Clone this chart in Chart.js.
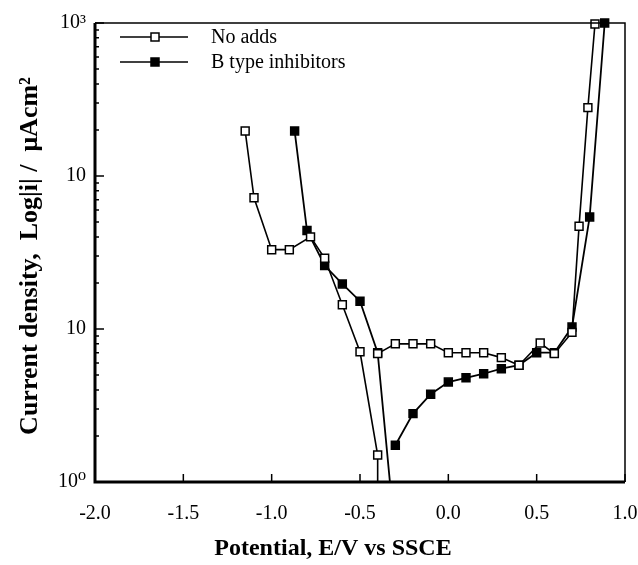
<!DOCTYPE html>
<html>
<head>
<meta charset="utf-8">
<script src="https://cdn.jsdelivr.net/npm/chart.js@4/dist/chart.umd.min.js"></script>
<style>
  html, body { margin: 0; padding: 0; background: #fff; }
  #wrap { width: 638px; height: 565px; }
</style>
</head>
<body>
<div id="wrap"><canvas id="chart" width="638" height="565"></canvas></div>
<script>
// No adds (open squares): cathodic branch runs off the bottom, then anodic branch
const noAddsCathE = [-1.15, -1.1, -1.0, -0.9, -0.78, -0.7, -0.6, -0.5, -0.4, -0.4];
const noAddsCathI = [197, 72, 33, 33, 40, 29, 14.4, 7.1, 1.5, 0.3];
const noAddsAnodE = [-0.4, -0.3, -0.2, -0.1, 0.0, 0.1, 0.2, 0.3, 0.4, 0.52, 0.6, 0.7, 0.74, 0.79, 0.83];
const noAddsAnodI = [6.9, 8.0, 8.0, 8.0, 7.0, 7.0, 7.0, 6.5, 5.8, 8.1, 6.9, 9.5, 47, 280, 985];

// B type inhibitors (filled squares)
const bTypeCathE = [-0.87, -0.8, -0.7, -0.6, -0.5, -0.4, -0.29];
const bTypeCathI = [197, 44, 26, 19.7, 15.2, 7.0, 0.32];
const bTypeAnodE = [-0.3, -0.2, -0.1, 0.0, 0.1, 0.2, 0.3, 0.4, 0.5, 0.6, 0.7, 0.8, 0.885];
const bTypeAnodI = [1.74, 2.8, 3.75, 4.5, 4.8, 5.1, 5.5, 5.8, 7.0, 7.0, 10.3, 54, 1000];

const seriesNames = ['No adds', 'B type inhibitors'];
const xTicks = [-2.0, -1.5, -1.0, -0.5, 0.0, 0.5, 1.0];
const yDecades = [1, 10, 100, 1000];
const yTickLabels = ['10\u2070', '10', '10', '10\u00B3'];
const xTitle = 'Potential, E/V vs SSCE';
const yTitle = 'Current density,  Log|i| /  \u03BCAcm\u00B2';

const serif = '"Liberation Serif", "DejaVu Serif", serif';

function branches(e1, i1, e2, i2) {
    const pts = e1.map((e, k) => ({ x: e, y: i1[k] }));
    pts.push({ x: e2[0], y: null });
    e2.forEach((e, k) => pts.push({ x: e, y: i2[k] }));
    return pts;
}

// all minor + major tick values on the log axis
const yAllTicks = [];
for (let d = 0; d < 3; d++) {
    for (let m = 1; m < 10; m++) yAllTicks.push(m * Math.pow(10, d));
}
yAllTicks.push(1000);

const framePlugin = {
    id: 'frame',
    afterDraw(chart) {
        const { ctx, chartArea: a, scales } = chart;
        ctx.save();
        ctx.strokeStyle = '#000';
        // thin top / right
        ctx.lineWidth = 1.5;
        ctx.beginPath();
        ctx.moveTo(a.left, a.top); ctx.lineTo(a.right, a.top); ctx.lineTo(a.right, a.bottom);
        ctx.stroke();
        // heavy left / bottom
        ctx.lineWidth = 3;
        ctx.beginPath();
        ctx.moveTo(a.left, a.top); ctx.lineTo(a.left, a.bottom); ctx.lineTo(a.right, a.bottom);
        ctx.stroke();

        // inward ticks
        ctx.lineWidth = 1.5;
        ctx.beginPath();
        xTicks.forEach(v => {
            const px = scales.x.getPixelForValue(v);
            ctx.moveTo(px, a.bottom); ctx.lineTo(px, a.bottom - 8);
        });
        yAllTicks.forEach(v => {
            const py = scales.y.getPixelForValue(v);
            const len = yDecades.includes(v) ? 9 : 4;
            ctx.moveTo(a.left, py); ctx.lineTo(a.left + len, py);
        });
        ctx.stroke();

        // axis titles
        ctx.fillStyle = '#000';
        ctx.font = 'bold 24px ' + serif;
        ctx.textAlign = 'center';
        ctx.textBaseline = 'middle';
        ctx.fillText(xTitle, 333, 549);
        ctx.save();
        ctx.translate(30, 256);
        ctx.rotate(-Math.PI / 2);
        ctx.font = 'bold 26px ' + serif;
        ctx.fillText(yTitle, 0, 0);
        ctx.restore();

        // legend
        const rows = [
            { y: 37, fill: '#fff' },
            { y: 62, fill: '#000' }
        ];
        ctx.font = '20px ' + serif;
        ctx.textAlign = 'left';
        rows.forEach((r, k) => {
            ctx.lineWidth = 1.5;
            ctx.beginPath();
            ctx.moveTo(120, r.y); ctx.lineTo(188, r.y);
            ctx.stroke();
            ctx.fillStyle = r.fill;
            ctx.fillRect(151, r.y - 4, 8, 8);
            ctx.strokeRect(151, r.y - 4, 8, 8);
            ctx.fillStyle = '#000';
            ctx.fillText(seriesNames[k], 211, r.y + 1);
        });
        ctx.restore();
    }
};

new Chart(document.getElementById('chart'), {
    type: 'line',
    data: {
        datasets: [
            {
                label: seriesNames[0],
                data: branches(noAddsCathE, noAddsCathI, noAddsAnodE, noAddsAnodI),
                borderColor: '#000',
                borderWidth: 1.6,
                pointStyle: 'rect',
                pointRadius: 5.6,
                pointBorderWidth: 1.5,
                pointBackgroundColor: '#fff',
                pointBorderColor: '#000',
                spanGaps: false,
                clip: { left: 10, right: 10, top: 10, bottom: 0 }
            },
            {
                label: seriesNames[1],
                data: branches(bTypeCathE, bTypeCathI, bTypeAnodE, bTypeAnodI),
                borderColor: '#000',
                borderWidth: 1.8,
                pointStyle: 'rect',
                pointRadius: 5.6,
                pointBorderWidth: 1.5,
                pointBackgroundColor: '#000',
                pointBorderColor: '#000',
                spanGaps: false,
                clip: { left: 10, right: 10, top: 10, bottom: 0 }
            }
        ]
    },
    options: {
        responsive: false,
        animation: false,
        layout: { padding: { top: 23, right: 13, left: 0, bottom: 0 } },
        plugins: { legend: { display: false }, tooltip: { enabled: false } },
        scales: {
            x: {
                type: 'linear',
                min: -2,
                max: 1,
                grid: { display: false, drawTicks: false },
                border: { display: false },
                afterFit(scale) {
                    scale.height = 83;
                    scale.paddingLeft = 0;
                    scale.paddingRight = 0;
                },
                afterBuildTicks(scale) { scale.ticks = xTicks.map(v => ({ value: v })); },
                ticks: {
                    padding: 20,
                    color: '#000',
                    font: { family: serif, size: 20 },
                    callback: v => v.toFixed(1)
                }
            },
            y: {
                type: 'logarithmic',
                min: 1,
                max: 1000,
                grid: { display: false, drawTicks: false },
                border: { display: false },
                afterFit(scale) {
                    scale.width = 95;
                    scale.paddingTop = 0;
                    scale.paddingBottom = 0;
                },
                afterBuildTicks(scale) { scale.ticks = yDecades.map(v => ({ value: v, major: true })); },
                ticks: {
                    padding: 9,
                    color: '#000',
                    autoSkip: false,
                    font: { family: serif, size: 20 },
                    callback: v => yTickLabels[yDecades.indexOf(v)]
                }
            }
        }
    },
    plugins: [framePlugin]
});
</script>
</body>
</html>
